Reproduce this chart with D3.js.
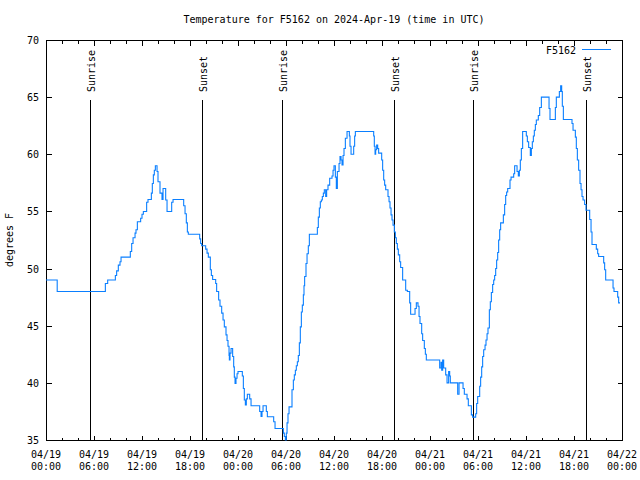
<!DOCTYPE html>
<html><head><meta charset="utf-8">
<script src="https://cdn.jsdelivr.net/npm/d3@7"></script>
<style>
body{margin:0;background:#fff;}
text{font-family:"DejaVu Sans Mono","Liberation Mono",monospace;font-size:10px;fill:#000;}
</style></head>
<body><svg id="c" width="640" height="480"></svg>
<script>
const chartTitle = "Temperature for F5162 on 2024-Apr-19 (time in UTC)";
const seriesName = "F5162";
const yLabel = "degrees F";
const startTime = "2024-04-19T00:00:00Z";
const endTime = "2024-04-22T00:00:00Z";
const yTicks = [35, 40, 45, 50, 55, 60, 65, 70];
// hours since 2024-04-19 00:00 UTC
const hours = [0,1.4,7.42,7.71,8.67,8.83,9.04,9.25,9.38,10.54,10.71,10.88,11.13,11.25,11.42,11.83,12.0,12.17,12.58,12.75,13.17,13.29,13.42,13.54,13.67,13.88,14.0,14.25,14.5,14.63,14.96,15.13,15.71,15.88,17.21,17.38,17.54,17.67,17.79,19.21,19.33,19.46,19.96,20.13,20.29,20.54,20.67,20.83,21.21,21.33,21.58,21.75,21.96,22.13,22.29,22.5,22.63,22.75,22.88,22.92,23.0,23.13,23.33,23.46,23.54,23.63,23.75,23.88,24.0,24.54,24.67,24.79,24.92,25.04,25.17,25.46,25.63,26.71,26.88,27.0,27.13,27.54,27.67,28.46,28.63,29.67,29.79,29.92,30.04,30.13,30.25,30.38,30.75,30.92,31.04,31.17,31.29,31.42,31.54,31.67,31.79,31.92,32.04,32.17,32.25,32.33,32.5,32.63,32.79,32.92,33.92,34.04,34.17,34.29,34.42,34.54,34.67,34.79,34.96,35.08,35.25,35.46,35.75,35.88,36.0,36.17,36.29,36.42,36.63,36.75,36.88,37.0,37.13,37.25,37.42,37.63,37.92,38.0,38.13,38.46,38.58,38.67,40.96,41.04,41.13,41.21,41.33,41.46,41.58,41.96,42.08,42.21,42.33,42.46,42.75,42.88,43.0,43.13,43.25,43.38,43.54,43.67,43.79,43.92,44.04,44.21,44.33,44.58,44.96,45.17,45.46,45.58,46.13,46.29,46.5,46.63,46.75,46.96,47.08,47.29,47.42,47.54,49.21,49.38,49.46,49.58,49.71,49.96,50.13,50.33,50.46,50.54,51.46,51.63,52.13,52.29,52.63,52.79,53.17,53.33,53.71,53.83,53.96,54.21,54.33,54.46,54.58,54.71,54.88,55.0,55.13,55.25,55.42,55.54,55.67,55.83,55.96,56.08,56.21,56.33,56.46,56.58,56.71,56.83,57.17,57.33,57.46,57.58,57.71,58.0,58.13,58.46,58.58,58.88,59.04,59.17,59.29,59.42,59.58,60.04,60.17,60.33,60.54,60.67,60.79,60.92,61.04,61.17,61.29,61.54,61.71,61.92,62.88,63.0,63.67,63.79,64.17,64.33,64.46,64.54,64.67,65.75,65.88,66.17,66.29,66.42,66.58,66.75,66.88,67.0,67.13,67.33,67.5,67.96,68.13,68.25,68.79,68.96,69.08,69.71,69.83,69.96,70.88,71.0,71.46,71.58,71.75];
const temps = [49,48,48.7,49,49.4,49.8,50.3,50.6,51,51.5,52.2,52.7,53.1,53.4,54.1,54.4,54.75,55.0,55.8,56.05,56.6,57.45,58.2,58.6,59.0,58.5,57.6,56.6,56.05,57.0,56.0,55.0,55.8,56.05,55.5,54.8,54.0,53.2,53.0,52.6,52.2,52.0,51.7,51.35,51.0,49.9,49.4,49.05,48.7,48.0,47.25,46.7,46.1,45.5,44.9,44.2,43.7,43.2,42.4,42.0,42.6,43.0,42.3,41.4,40.5,39.95,40.4,40.8,41.0,40.6,39.5,38.5,38.06,38.6,39.0,38.6,38.0,37.5,37.05,37.5,38.0,37.5,37.04,36.6,36.0,35.6,35.3,35.0,35.6,36.5,37.3,37.9,39.4,40.25,40.7,41.1,41.5,41.85,42.4,43.5,44.9,46.2,46.8,47.7,48.5,49.3,50.45,51.3,52.0,53.0,53.6,54.5,55.3,55.85,56.0,56.3,56.6,56.9,56.3,56.9,57.3,57.9,58.1,58.6,59.0,58.0,57.0,58.5,59.2,59.8,59.5,59.06,59.9,60.5,61.4,62.0,61.6,60.7,60.0,60.7,61.6,62.0,61.6,60.7,60.0,60.4,60.8,60.5,60.1,59.5,58.6,57.75,57.3,56.9,56.3,55.85,55.3,54.7,54.25,53.8,53.2,52.7,52.2,51.7,51.2,50.6,50.1,49.0,48.1,48.0,47.0,46.0,46.5,47.0,46.7,45.8,45.2,44.3,43.7,43.0,42.5,42.0,41.3,41.8,41.1,42.0,41.3,40.7,40.0,41.0,40.6,40.0,39.0,40.0,39.5,39.0,38.6,38.0,37.2,37.0,37.3,38.2,38.8,39.7,40.5,41.4,42.3,42.9,43.3,43.75,44.3,44.8,46.4,47.1,47.9,48.6,49.0,49.4,50.0,50.75,51.4,52.5,53.4,54.0,54.7,55.6,56.4,56.7,57.0,57.75,58.0,58.3,59.0,58.5,58.1,58.6,59.5,60.5,62.0,61.6,61.1,60.6,59.9,60.5,61.1,61.6,62.1,62.6,63.0,63.4,64.1,65.0,64.0,63.05,64.1,65.0,65.5,66.0,65.5,64.2,63.05,62.7,62.1,61.5,60.5,59.5,58.6,57.45,56.9,56.3,56.0,55.6,55.1,54.3,53.2,52.1,51.7,51.3,51.05,50.5,49.9,49.0,48.3,48.0,47.5,47.0,47.0];
const sunLabels = ["Sunrise","Sunset","Sunrise","Sunset","Sunrise","Sunset"];
const sunHours = [5.54,19.54,29.54,43.54,53.42,67.54];
const sunLineTop = 64.8;

const t0 = new Date(startTime);
const toDate = h => new Date(t0.getTime() + h*3600000);
const data = hours.map((h,i)=>({t:toDate(h), v:temps[i]}));

const L=46, R=622, T=40, B=440;
const svg = d3.select("#c");
const x = d3.scaleUtc().domain([new Date(startTime), new Date(endTime)]).range([L,R]);
const y = d3.scaleLinear().domain([35,70]).range([B,T]);

const g = svg.append("g").attr("transform","translate(0.5,0.5)").attr("shape-rendering","crispEdges");

// minor x ticks (2h)
const minor = x.ticks(d3.utcHour.every(2));
const major = x.ticks(d3.utcHour.every(6));
g.selectAll(".mnb").data(minor).join("line").attr("x1",d=>Math.round(x(d))).attr("x2",d=>Math.round(x(d))).attr("y1",B).attr("y2",B-3).attr("stroke","#000");
g.selectAll(".mnt").data(minor).join("line").attr("x1",d=>Math.round(x(d))).attr("x2",d=>Math.round(x(d))).attr("y1",T).attr("y2",T+3).attr("stroke","#000");
g.selectAll(".mjb").data(major).join("line").attr("x1",d=>Math.round(x(d))).attr("x2",d=>Math.round(x(d))).attr("y1",B).attr("y2",B-5).attr("stroke","#000");
g.selectAll(".mjt").data(major).join("line").attr("x1",d=>Math.round(x(d))).attr("x2",d=>Math.round(x(d))).attr("y1",T).attr("y2",T+5).attr("stroke","#000");
g.selectAll(".yl").data(yTicks).join("line").attr("x1",L).attr("x2",L+5).attr("y1",d=>Math.round(y(d))).attr("y2",d=>Math.round(y(d))).attr("stroke","#000");
g.selectAll(".yr").data(yTicks).join("line").attr("x1",R).attr("x2",R-5).attr("y1",d=>Math.round(y(d))).attr("y2",d=>Math.round(y(d))).attr("stroke","#000");

// x labels
const fmtD = d3.utcFormat("%m/%d"), fmtT = d3.utcFormat("%H:%M");
major.forEach(d=>{
  const t = svg.append("text").attr("x",x(d)).attr("text-anchor","middle");
  t.append("tspan").attr("x",x(d)).attr("y",458).text(fmtD(d));
  t.append("tspan").attr("x",x(d)).attr("y",470).text(fmtT(d));
});
// y labels
yTicks.forEach(v=>{
  svg.append("text").attr("x",39).attr("y",y(v)+4).attr("text-anchor","end").text(v);
});

// sun lines
sunHours.forEach((h,i)=>{
  const xx = Math.round(x(toDate(h)));
  g.append("line").attr("x1",xx).attr("x2",xx).attr("y1",B).attr("y2",Math.round(y(sunLineTop))).attr("stroke","#000");
  svg.append("text").attr("transform",`translate(${xx+5},92) rotate(-90)`).attr("text-anchor","start").text(sunLabels[i]);
});

// data line
const line = d3.line().x(d=>x(d.t)).y(d=>y(d.v)).curve(d3.curveStepAfter);
svg.append("path").datum(data).attr("d",line).attr("fill","none").attr("stroke","#0a7fff").attr("stroke-width",1.1);

// border
g.append("rect").attr("x",L).attr("y",T).attr("width",R-L).attr("height",B-T).attr("fill","none").attr("stroke","#000");

// title
svg.append("text").attr("x",(L+R)/2).attr("y",23).attr("text-anchor","middle").text(chartTitle);
// y label
svg.append("text").attr("transform",`translate(13,${(T+B)/2}) rotate(-90)`).attr("text-anchor","middle").text(yLabel);
// legend
svg.append("text").attr("x",576).attr("y",54).attr("text-anchor","end").text(seriesName);
g.append("line").attr("x1",581).attr("x2",610).attr("y1",49).attr("y2",49).attr("stroke","#0a7fff");
</script></body></html>
